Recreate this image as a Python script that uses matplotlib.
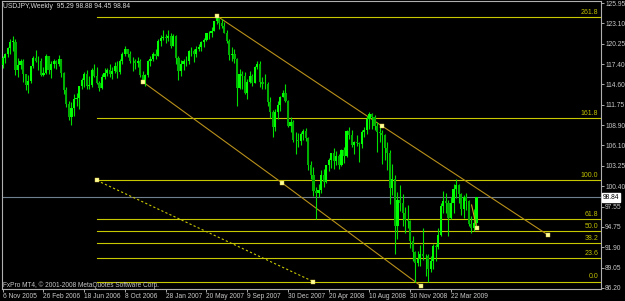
import matplotlib
matplotlib.use("Agg")
import matplotlib.pyplot as plt
import numpy as np

#%% weekly USDJPY bars, first bar = week of 6 Nov 2005
opens = [117.3, 118.3, 118.9, 119.7, 120.5, 120.5, 116.6, 117.3, 117.8, 116.0,
         114.5, 115.1, 117.2, 118.3, 117.9, 117.8, 115.9, 116.2, 118.5, 116.6,
         117.4, 117.8, 117.5, 118.1, 116.2, 113.8, 111.8, 110.0, 111.3, 112.6,
         112.7, 114.4, 115.2, 116.1, 114.4, 114.5, 116.6, 115.7, 114.8, 114.1,
         115.6, 116.2, 116.6, 116.0, 116.5, 117.1, 116.3, 117.9, 118.9, 119.5,
         118.8, 117.8, 117.8, 117.6, 117.9, 115.9, 115.2, 115.9, 117.9, 118.1,
         118.9, 118.6, 120.7, 121.1, 121.2, 121.0, 121.4, 120.0, 121.3, 118.3,
         116.5, 117.5, 117.9, 117.8, 119.2, 119.2, 118.9, 119.5, 119.8, 120.5,
         120.8, 121.7, 121.8, 122.1, 123.4, 123.8, 123.1, 122.8, 121.8, 120.7,
         118.7, 118.9, 118.2, 114.1, 116.0, 115.8, 113.4, 115.0, 115.7, 114.8,
         117.0, 117.5, 114.9, 114.6, 114.7, 112.2, 110.7, 108.6, 110.8, 111.7,
         112.9, 113.4, 112.3, 108.8, 109.3, 106.9, 106.8, 106.7, 107.7, 108.1,
         107.1, 103.4, 102.0, 99.7, 99.5, 99.8, 101.9, 101.0, 103.3, 104.1,
         105.0, 103.9, 104.6, 103.3, 105.5, 104.6, 108.1, 107.6, 106.1, 106.6,
         106.4, 106.3, 107.9, 108.2, 109.8, 110.5, 110.0, 108.8, 107.9, 107.8,
         107.5, 105.7, 105.0, 100.2, 101.4, 94.8, 98.5, 98.0, 96.6, 95.7,
         95.5, 92.8, 91.2, 89.7, 90.3, 91.0, 90.6, 90.7, 88.9, 89.9,
         92.0, 91.9, 93.6, 97.6, 98.3, 98.1, 96.0, 98.0, 100.0, 100.6,
         99.3, 97.2, 98.9, 98.3, 95.1, 94.6, 95.29]
highs = [118.6, 119.0, 119.8, 120.9, 121.4, 120.9, 118.3, 118.1, 118.2, 116.1,
         115.9, 117.2, 118.5, 119.4, 118.6, 118.3, 117.0, 118.9, 118.6, 117.8,
         118.1, 118.0, 118.7, 118.2, 116.3, 114.2, 112.3, 112.2, 113.3, 113.4,
         114.4, 115.5, 116.3, 116.6, 115.7, 116.9, 117.4, 117.0, 115.1, 116.0,
         116.9, 116.9, 117.4, 117.0, 117.7, 117.9, 118.2, 119.1, 119.9, 119.6,
         119.3, 118.4, 118.2, 118.4, 118.2, 116.5, 116.1, 118.0, 118.6, 119.1,
         119.5, 120.9, 121.5, 122.2, 121.6, 122.2, 121.7, 121.6, 121.5, 118.6,
         118.0, 118.2, 118.5, 119.4, 119.8, 119.5, 119.9, 120.3, 120.7, 121.0,
         121.8, 122.0, 122.6, 123.5, 124.1, 123.9, 123.7, 123.3, 122.2, 120.9,
         119.8, 119.6, 118.3, 116.8, 116.4, 116.3, 115.4, 116.4, 116.0, 117.2,
         117.9, 117.8, 115.6, 116.1, 115.0, 112.8, 111.0, 111.1, 112.3, 113.0,
         113.8, 114.6, 112.4, 110.0, 109.6, 107.9, 107.8, 108.0, 108.4, 108.5,
         107.3, 103.9, 103.1, 100.3, 100.7, 102.6, 102.8, 103.3, 104.4, 105.0,
         105.7, 105.3, 104.9, 105.6, 105.8, 108.3, 108.6, 108.3, 106.7, 107.6,
         106.6, 108.3, 108.6, 110.2, 110.7, 110.6, 110.3, 109.4, 108.6, 108.2,
         107.7, 106.5, 105.5, 103.5, 101.9, 99.6, 100.5, 99.3, 97.5, 97.8,
         95.7, 93.5, 91.4, 91.3, 92.2, 94.6, 90.9, 90.9, 90.6, 92.3,
         92.4, 94.5, 98.0, 99.7, 99.4, 98.5, 98.9, 100.7, 101.4, 100.7,
         99.4, 99.2, 99.4, 98.5, 96.2, 97.2, 98.88]
lows = [116.9, 117.6, 118.4, 118.8, 119.3, 115.9, 115.6, 116.8, 115.0, 113.8,
        113.4, 114.8, 116.9, 117.7, 116.6, 115.7, 115.7, 116.0, 116.1, 115.5,
        116.9, 116.7, 117.1, 115.6, 113.2, 111.5, 109.6, 109.0, 110.2, 111.6,
        111.2, 114.0, 114.2, 114.0, 114.0, 114.2, 115.6, 114.6, 113.7, 113.9,
        115.4, 115.8, 115.6, 115.3, 116.2, 115.5, 116.0, 117.4, 118.6, 118.4,
        117.6, 116.5, 116.7, 117.0, 115.6, 115.0, 114.4, 115.6, 117.2, 117.8,
        118.2, 118.5, 120.0, 120.8, 120.4, 120.6, 119.7, 119.9, 117.5, 115.2,
        115.7, 116.6, 117.2, 117.5, 118.6, 117.7, 118.4, 119.2, 119.3, 119.8,
        120.6, 120.9, 121.2, 122.0, 123.0, 122.3, 122.5, 121.8, 120.4, 118.0,
        117.9, 117.6, 111.6, 113.9, 114.0, 113.2, 112.6, 114.8, 114.4, 114.8,
        116.7, 114.3, 113.9, 114.0, 111.6, 109.9, 107.2, 108.1, 109.8, 110.9,
        112.8, 112.1, 108.6, 107.9, 106.6, 104.9, 105.8, 106.2, 106.8, 106.7,
        102.6, 101.4, 99.0, 95.8, 98.9, 99.5, 100.3, 100.8, 102.5, 102.9,
        102.8, 103.4, 102.8, 103.2, 103.6, 104.5, 107.0, 105.8, 104.9, 106.0,
        103.8, 105.7, 107.3, 107.7, 108.4, 108.4, 108.2, 105.2, 106.5, 103.5,
        104.0, 102.7, 97.9, 99.2, 90.9, 93.0, 96.9, 94.9, 93.9, 94.6,
        91.8, 90.0, 87.1, 89.2, 89.2, 90.1, 87.9, 87.1, 88.4, 88.8,
        89.9, 91.7, 93.4, 96.6, 96.6, 93.5, 95.8, 96.7, 98.7, 98.1,
        96.4, 95.9, 97.1, 94.9, 93.9, 94.1, 94.45]
closes = [118.3, 118.9, 119.7, 120.5, 120.5, 116.6, 117.3, 117.8, 116.0, 114.5,
          115.1, 117.2, 118.3, 117.9, 117.8, 115.9, 116.2, 118.5, 116.6, 117.4,
          117.8, 117.5, 118.1, 116.2, 113.8, 111.8, 110.0, 111.3, 112.6, 112.7,
          114.4, 115.2, 116.1, 114.4, 114.5, 116.6, 115.7, 114.8, 114.1, 115.6,
          116.2, 116.6, 116.0, 116.5, 117.1, 116.3, 117.9, 118.9, 119.5, 118.8,
          117.8, 117.8, 117.6, 117.9, 115.9, 115.2, 115.9, 117.9, 118.1, 118.9,
          118.6, 120.7, 121.1, 121.2, 121.0, 121.4, 120.0, 121.3, 118.3, 116.5,
          117.5, 117.9, 117.8, 119.2, 119.2, 118.9, 119.5, 119.8, 120.5, 120.8,
          121.7, 121.8, 122.1, 123.4, 123.8, 123.1, 122.8, 121.8, 120.7, 118.7,
          118.9, 118.2, 114.1, 116.0, 115.8, 113.4, 115.0, 115.7, 114.8, 117.0,
          117.5, 114.9, 114.6, 114.7, 112.2, 110.7, 108.6, 110.8, 111.7, 112.9,
          113.4, 112.3, 108.8, 109.3, 106.9, 106.8, 106.7, 107.7, 108.1, 107.1,
          103.4, 102.0, 99.7, 99.5, 99.8, 101.9, 101.0, 103.3, 104.1, 105.0,
          103.9, 104.6, 103.3, 105.5, 104.6, 108.1, 107.6, 106.1, 106.6, 106.4,
          106.3, 107.9, 108.2, 109.8, 110.5, 110.0, 108.8, 107.9, 107.8, 107.5,
          105.7, 105.0, 100.2, 101.4, 94.8, 98.5, 98.0, 96.6, 95.7, 95.5,
          92.8, 91.2, 89.7, 90.3, 91.0, 90.6, 90.7, 88.9, 89.9, 92.0,
          91.9, 93.6, 97.6, 98.3, 98.1, 96.0, 98.0, 100.0, 100.6, 99.3,
          97.2, 98.9, 98.3, 95.1, 94.6, 95.3, 98.84]

date_ticks = [0, 16, 32, 48, 64, 80, 96, 112, 128, 144, 160, 176]
date_labels = ["6 Nov 2005", "26 Feb 2006", "18 Jun 2006", "8 Oct 2006",
               "28 Jan 2007", "20 May 2007", "9 Sep 2007", "30 Dec 2007",
               "20 Apr 2008", "10 Aug 2008", "30 Nov 2008", "22 Mar 2009"]
price_ticks = [125.95, 123.10, 120.25, 117.40, 114.60, 111.75, 108.90, 106.10,
               103.25, 100.40, 97.55, 94.75, 91.90, 89.05, 86.20]

## drawn objects: (bar, price) anchors
fib_levels = [0.0, 23.6, 38.2, 50.0, 61.8, 100.0, 161.8, 261.8]
fib_hi = (37.0, 101.2)
fib_lo = (121.9, 87.1)
upper_x = [84.1, 148.9, 214.1]
upper_y = [124.14, 108.80, 93.59]
lower_x = [55.1, 109.7, 164.2]
lower_y = [114.93, 100.85, 86.48]
short_x = [184.1, 186.1]
short_y = [97.78, 94.57]

title = "USDJPY,Weekly  95.29 98.88 94.45 98.84"
last_price = 98.84

plt.rcParams['font.family'] = ['Liberation Sans Narrow', 'Liberation Sans', 'DejaVu Sans']

#%% figure
W, H = 625, 301
fig = plt.figure(figsize=(W / 100, H / 100), dpi=100, facecolor='black')
ax = fig.add_axes([2 / W, 12 / H, 599 / W, 288 / H], facecolor='black')
xmax = 234.9
ax.set_xlim(-0.275, xmax)
ax.set_ylim(86.06, 126.23)

o = np.array(opens); h = np.array(highs); l = np.array(lows); c = np.array(closes)
x = np.arange(len(c))
up = c >= o
ax.vlines(x, l, h, color='#00e000', lw=0.8, zorder=3)
body = np.maximum(np.abs(c - o), 0.1)
ax.bar(x[up], body[up], bottom=o[up], width=0.85, color='#00ff00', lw=0, zorder=4)
ax.bar(x[~up], body[~up], bottom=c[~up], width=0.85, color='#00b000', lw=0, zorder=4)

# current price
ax.axhline(last_price, color='#708090', lw=0.8, zorder=1)
ax.text(1.003, last_price, "%.2f" % last_price, transform=ax.get_yaxis_transform(),
        ha='left', va='center', fontsize=4.8, color='black', clip_on=False,
        bbox=dict(boxstyle='square,pad=0.15', fc='white', ec='white'))

# fibonacci retracement
fib_col = '#c8c800'
for lv in fib_levels:
    p = fib_lo[1] + (fib_hi[1] - fib_lo[1]) * lv / 100
    ax.plot([fib_hi[0], xmax], [p, p], color=fib_col, lw=0.8, zorder=2)
    ax.text(xmax - 1.0, p + 0.15, "%.1f" % lv, color='#c0c000', fontsize=5,
            ha='right', va='bottom', zorder=5)
ax.plot([fib_hi[0], fib_lo[0]], [fib_hi[1], fib_lo[1]], color=fib_col, lw=0.8,
        ls=(0, (2, 2)), zorder=2)

# trend lines
tl_col = '#b8901a'
ax.plot(upper_x, upper_y, color=tl_col, lw=0.8, zorder=2)
ax.plot(lower_x, lower_y, color=tl_col, lw=0.8, zorder=2)
ax.plot(short_x, short_y, color='#d8a020', lw=0.8, zorder=5)

mk = dict(ls='none', marker='s', ms=2.3, mfc='#ffff99', mec='#d8c040', mew=0.3, zorder=6)
ax.plot(upper_x, upper_y, **mk)
ax.plot(lower_x, lower_y, **mk)
ax.plot([fib_hi[0], fib_lo[0]], [fib_hi[1], fib_lo[1]], **mk)
ax.plot(short_x[-1:], short_y[-1:], **mk)

# axes
for s in ax.spines.values():
    s.set_color('#b0b0b0')
    s.set_linewidth(0.8)
ax.yaxis.tick_right()
ax.set_yticks(price_ticks)
ax.set_yticklabels(["%.2f" % p for p in price_ticks])
ax.set_xticks(date_ticks)
ax.set_xticklabels(date_labels)
for t in ax.get_xticklabels():
    t.set_ha('left')
ax.tick_params(colors='#c8c8c8', labelsize=4.8, length=2.2, width=0.6, pad=0.8)

fig.text(3 / W, 1 - 6.5 / H, title, color='#d8d8d8', fontsize=4.9, va='center')
fig.text(3 / W, 1 - 285 / H, "FxPro MT4, \u00a9 2001-2008 MetaQuotes Software Corp.",
         color='#c8c8c8', fontsize=4.7, va='center')

fig.savefig("out.png", dpi=100, facecolor='black')
